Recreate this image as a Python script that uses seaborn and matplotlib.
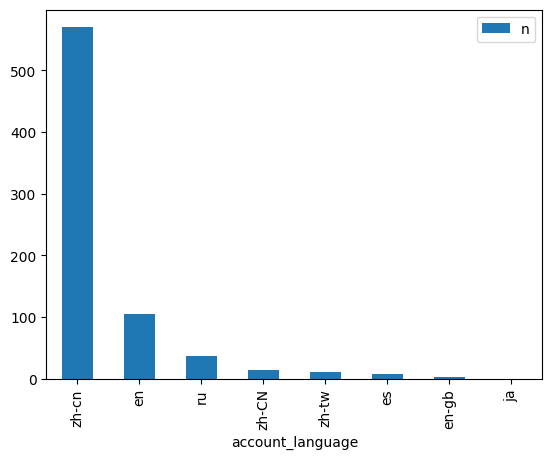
import pandas as pd
import matplotlib
matplotlib.use("Agg")
import matplotlib.pyplot as plt
import seaborn as sns

# counts per account language
languages = ['zh-cn', 'en', 'ru', 'zh-CN', 'zh-tw', 'es', 'en-gb', 'ja']
counts = [570, 104, 36, 13, 10, 7, 2, 0]

df = pd.DataFrame({'account_language': languages, 'n': counts})

fig, ax = plt.subplots(figsize=(5.52, 4.6), dpi=100)
fig.subplots_adjust(left=0.0839, right=0.9824, top=0.977, bottom=0.175)

sns.barplot(data=df, x='account_language', y='n', color='#1f77b4',
            saturation=1, width=0.5, label='n', ax=ax)

ax.set_xlim(-0.5, len(languages) - 0.5)
ax.set_ylabel('')
ax.set_xlabel('account_language')
ax.tick_params(axis='x', labelrotation=90)
ax.legend(loc='upper right')

plt.savefig('out.png', dpi=100)
